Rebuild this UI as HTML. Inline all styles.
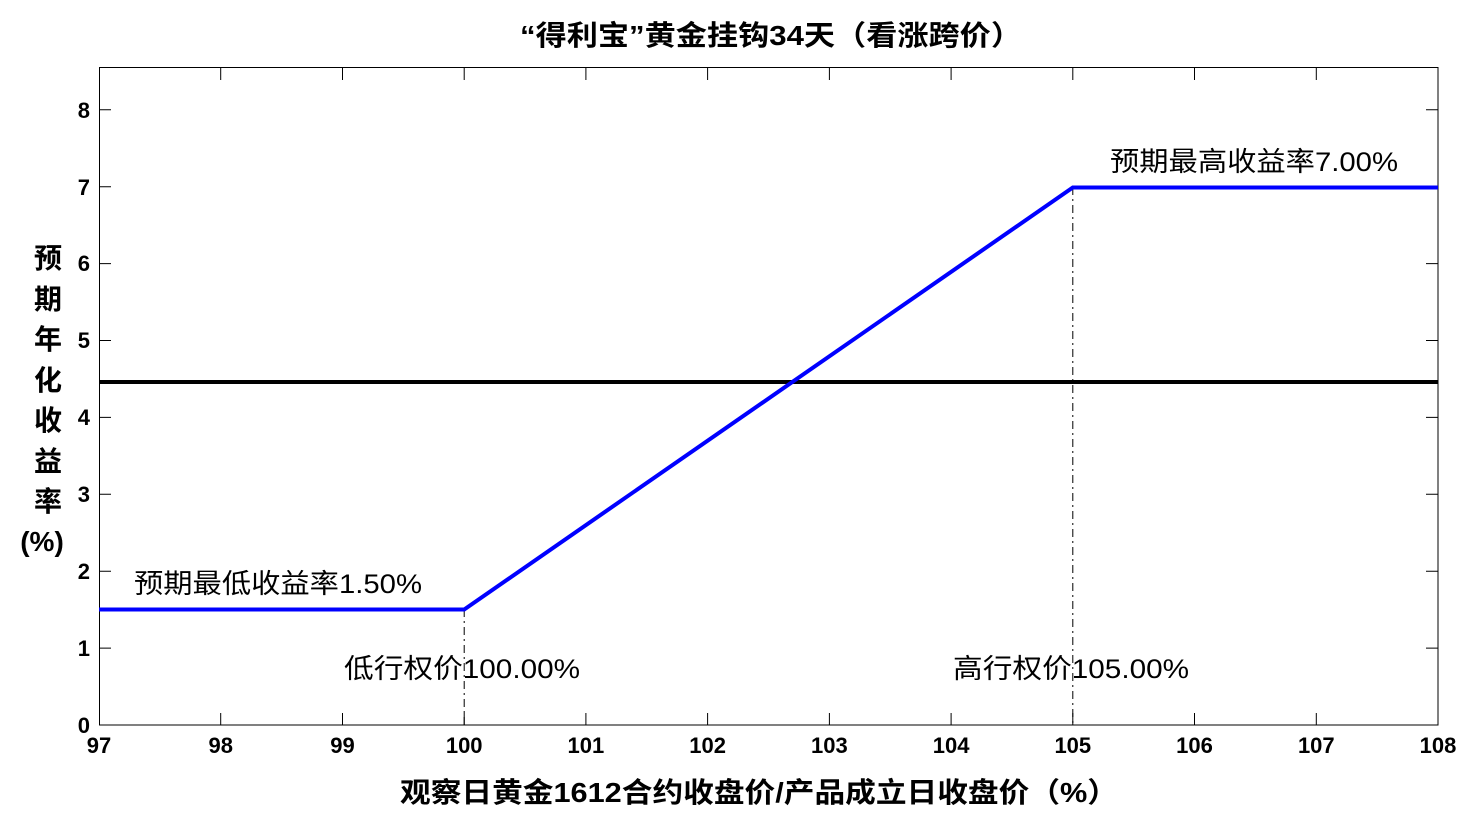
<!DOCTYPE html>
<html><head><meta charset="utf-8"><style>body{margin:0;background:#fff}svg{display:block}</style></head><body>
<svg width="1482" height="820" xmlns="http://www.w3.org/2000/svg" font-family="Liberation Sans, Noto Sans CJK SC, sans-serif">
<rect width="1482" height="820" fill="#fff"/>
<g stroke="#000" stroke-width="1" fill="none">
<rect x="99.5" y="67.5" width="1338.5" height="657.5"/>
<path d="M220.7 725v-12M342.5 725v-12M464.2 725v-12M585.9 725v-12M707.6 725v-12M829.4 725v-12M951.1 725v-12M1072.8 725v-12M1194.5 725v-12M1316.3 725v-12
M220.7 68v12M342.5 68v12M464.2 68v12M585.9 68v12M707.6 68v12M829.4 68v12M951.1 68v12M1072.8 68v12M1194.5 68v12M1316.3 68v12
M99 648.1h12M99 571.2h12M99 494.3h12M99 417.4h12M99 340.5h12M99 263.6h12M99 186.7h12M99 109.8h12
M1438 648.1h-12M1438 571.2h-12M1438 494.3h-12M1438 417.4h-12M1438 340.5h-12M1438 263.6h-12M1438 186.7h-12M1438 109.8h-12"/>
<path d="M464.2 609V725M1072.8 187V725" stroke-dasharray="8,4,2,4"/>
</g>
<line x1="99" y1="382" x2="1438" y2="382" stroke="#000" stroke-width="4"/>
<polyline points="99,609.5 464.2,609.5 1072.8,187.5 1438,187.5" fill="none" stroke="#0000ff" stroke-width="4"/>
<g font-size="22" font-weight="bold" text-anchor="middle" font-family="Liberation Sans, sans-serif">
<text x="99" y="753">97</text><text x="220.7" y="753">98</text><text x="342.5" y="753">99</text><text x="464.2" y="753">100</text><text x="585.9" y="753">101</text><text x="707.6" y="753">102</text><text x="829.4" y="753">103</text><text x="951.1" y="753">104</text><text x="1072.8" y="753">105</text><text x="1194.5" y="753">106</text><text x="1316.3" y="753">107</text><text x="1438" y="753">108</text>
</g>
<g font-size="22" font-weight="bold" text-anchor="end" font-family="Liberation Sans, sans-serif">
<text x="90" y="733">0</text><text x="90" y="656">1</text><text x="90" y="579">2</text><text x="90" y="502">3</text><text x="90" y="425">4</text><text x="90" y="348">5</text><text x="90" y="271">6</text><text x="90" y="195">7</text><text x="90" y="118">8</text>
</g>
<g font-size="27">
<text x="134" y="593" textLength="288" lengthAdjust="spacingAndGlyphs">预期最低收益率1.50%</text>
<text x="1110" y="171" textLength="288" lengthAdjust="spacingAndGlyphs">预期最高收益率7.00%</text>
<text x="344" y="678" textLength="236" lengthAdjust="spacingAndGlyphs">低行权价100.00%</text>
<text x="953" y="678" textLength="236" lengthAdjust="spacingAndGlyphs">高行权价105.00%</text>
</g>
<text x="520" y="45" font-size="28" font-weight="bold" textLength="502" lengthAdjust="spacingAndGlyphs">“得利宝”黄金挂钩34天（看涨跨价）</text>
<text x="400" y="802" font-size="28" font-weight="bold" textLength="718" lengthAdjust="spacingAndGlyphs">观察日黄金1612合约收盘价/产品成立日收盘价（%）</text>
<g font-size="28" font-weight="bold" text-anchor="middle">
<text x="48" y="268">预</text><text x="48" y="309">期</text><text x="48" y="349">年</text><text x="48" y="390">化</text><text x="48" y="430">收</text><text x="48" y="471">益</text><text x="48" y="511">率</text><text x="42" y="551">(%)</text>
</g>
</svg>
</body></html>
